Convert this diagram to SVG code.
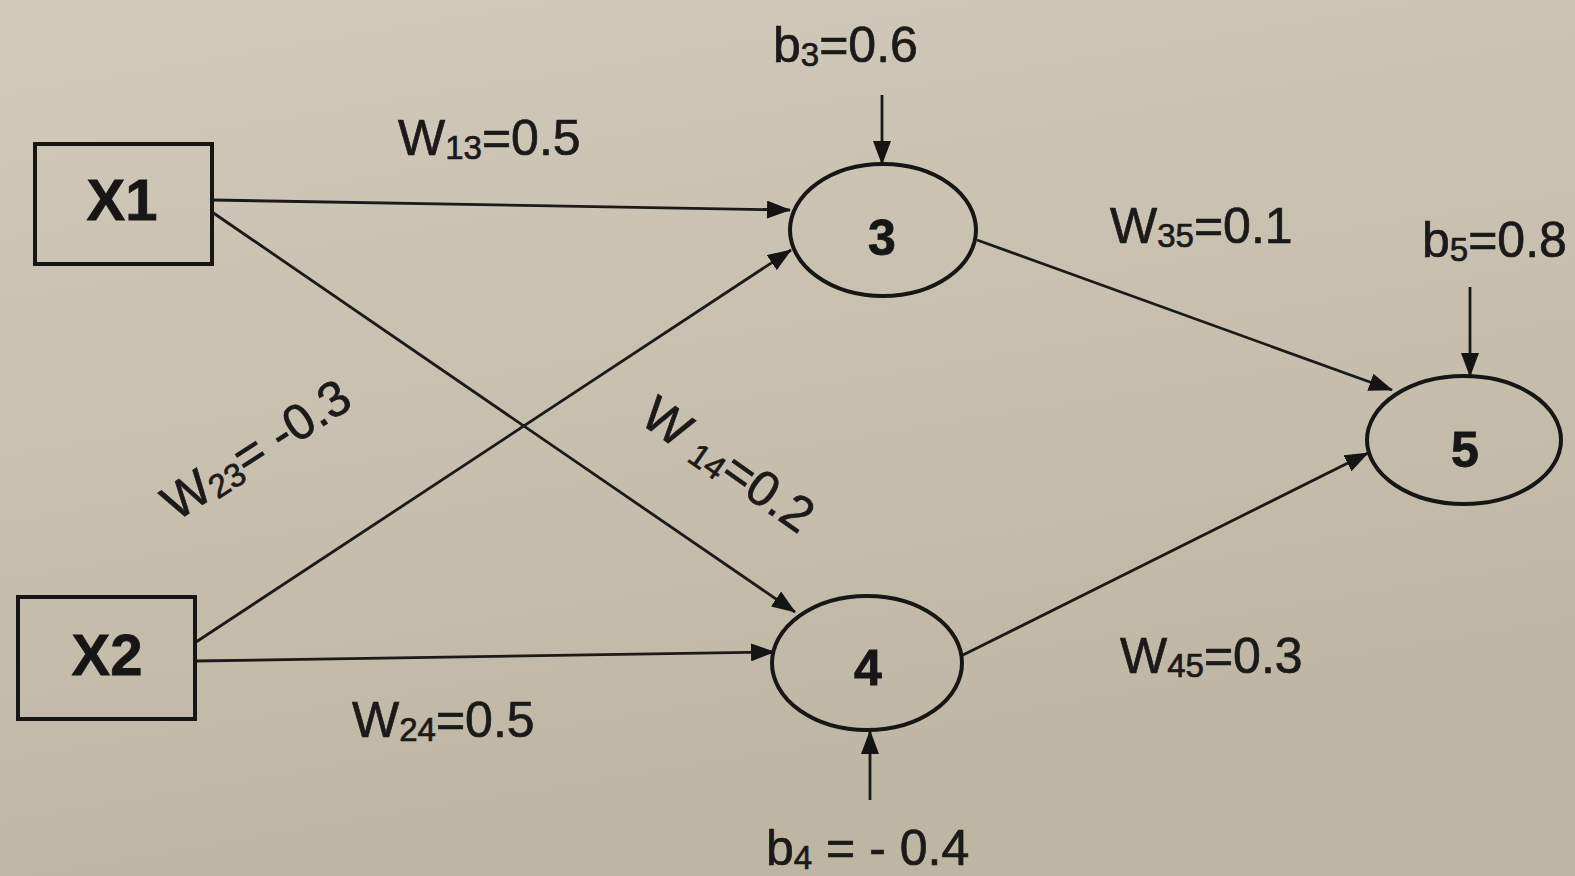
<svg xmlns="http://www.w3.org/2000/svg" width="1575" height="876" viewBox="0 0 1575 876">
  <defs>
    <linearGradient id="paper" x1="0" y1="0" x2="0.3" y2="1">
      <stop offset="0" stop-color="#d1c9ba"/>
      <stop offset="0.5" stop-color="#c9c0af"/>
      <stop offset="1" stop-color="#bfb5a3"/>
    </linearGradient>
    <marker id="arrow" viewBox="0 0 24 18" refX="23" refY="9" markerWidth="24" markerHeight="18" markerUnits="userSpaceOnUse" orient="auto">
      <path d="M0,0 L24,9 L0,18 Z" fill="#141414"/>
    </marker>
    <style>
      .box { fill: none; stroke: #161616; stroke-width: 4; }
      .neuron { fill: none; stroke: #161616; stroke-width: 4; }
      .edge { fill: none; stroke: #1a1a1a; stroke-width: 2.8; marker-end: url(#arrow); }
      .node-label { font-family: "Liberation Sans", Arial, sans-serif; font-weight: bold; fill: #161616; stroke: #161616; stroke-width: 0.8; text-anchor: middle; }
      .lbl { font-family: "Liberation Sans", Arial, sans-serif; font-size: 50px; fill: #1a1a1a; stroke: #1a1a1a; stroke-width: 0.7; }
      .sub { font-size: 33px; }
    </style>
  </defs>

  <rect x="0" y="0" width="1575" height="876" fill="url(#paper)"/>

  <!-- connectors -->
  <g id="connectors">
    <line class="edge" x1="212" y1="200" x2="790" y2="210"/>
    <line class="edge" x1="212" y1="212" x2="795" y2="612"/>
    <line class="edge" x1="196" y1="642" x2="791" y2="250"/>
    <line class="edge" x1="196" y1="661" x2="774" y2="652"/>
    <line class="edge" x1="977" y1="240" x2="1392" y2="390"/>
    <line class="edge" x1="963" y1="655" x2="1368" y2="453"/>
    <!-- bias inputs -->
    <line class="edge" x1="882" y1="95" x2="882" y2="164"/>
    <line class="edge" x1="870" y1="800" x2="870" y2="731"/>
    <line class="edge" x1="1470" y1="287" x2="1470" y2="376"/>
  </g>

  <!-- input nodes -->
  <g id="node-x1">
    <rect class="box" x="35" y="144" width="177" height="120"/>
    <text class="node-label" x="122" y="220" font-size="58">X1</text>
  </g>
  <g id="node-x2">
    <rect class="box" x="18" y="597" width="177" height="122"/>
    <text class="node-label" x="107" y="675" font-size="58">X2</text>
  </g>

  <!-- hidden nodes -->
  <g id="node-3">
    <ellipse class="neuron" cx="883" cy="230" rx="93" ry="66"/>
    <text class="node-label" x="882" y="255" font-size="50">3</text>
  </g>
  <g id="node-4">
    <ellipse class="neuron" cx="867" cy="663" rx="95" ry="67"/>
    <text class="node-label" x="868" y="685" font-size="50">4</text>
  </g>

  <!-- output node -->
  <g id="node-5">
    <ellipse class="neuron" cx="1464" cy="440" rx="97" ry="64"/>
    <text class="node-label" x="1465" y="467" font-size="50">5</text>
  </g>

  <!-- weight and bias labels -->
  <g id="labels">
    <text class="lbl" x="398" y="155">W<tspan class="sub" dy="4">13</tspan><tspan dy="-4">=0.5</tspan></text>
    <text class="lbl" x="352" y="737">W<tspan class="sub" dy="4">24</tspan><tspan dy="-4">=0.5</tspan></text>
    <text class="lbl" x="1110" y="243">W<tspan class="sub" dy="4">35</tspan><tspan dy="-4">=0.1</tspan></text>
    <text class="lbl" x="1120" y="673">W<tspan class="sub" dy="4">45</tspan><tspan dy="-4">=0.3</tspan></text>
    <text class="lbl" transform="translate(176,522) rotate(-33)">W<tspan class="sub" dy="4">23</tspan><tspan dy="-4">= -0.3</tspan></text>
    <text class="lbl" transform="translate(638,422) rotate(35)">W <tspan class="sub" dy="4">14</tspan><tspan dy="-4">=0.2</tspan></text>
    <text class="lbl" x="773" y="62">b<tspan class="sub" dy="4">3</tspan><tspan dy="-4">=0.6</tspan></text>
    <text class="lbl" x="766" y="865">b<tspan class="sub" dy="4">4</tspan><tspan dy="-4"> = - 0.4</tspan></text>
    <text class="lbl" x="1422" y="257">b<tspan class="sub" dy="4">5</tspan><tspan dy="-4">=0.8</tspan></text>
  </g>
</svg>
